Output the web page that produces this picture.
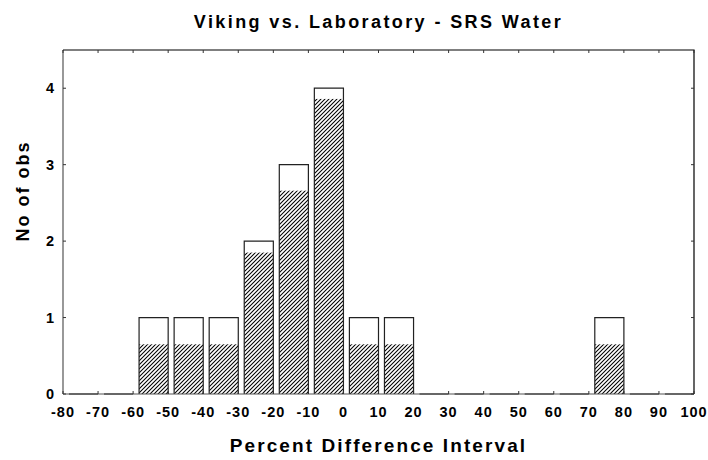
<!DOCTYPE html>
<html>
<head>
<meta charset="utf-8">
<script src="https://cdn.jsdelivr.net/npm/d3@7"></script>
<style>
    body { margin: 0; background: #fff; }
    text { font-family: "Liberation Sans", Arial, sans-serif; font-weight: bold; fill: #000; }
</style>
</head>
<body>
<div id="chart-container"></div>
<script>
// bin lower edges (percent difference), counts, and the hatched part drawn inside each bar
const binStarts = [-80, -70, -60, -50, -40, -30, -20, -10, 0, 10, 20, 30, 40, 50, 60, 70, 80, 90];
const counts = [0, 0, 1, 1, 1, 2, 3, 4, 1, 1, 0, 0, 0, 0, 0, 1, 0, 0];
const hatched = [0, 0, 0.65, 0.65, 0.65, 1.85, 2.66, 3.86, 0.65, 0.65, 0, 0, 0, 0, 0, 0.65, 0, 0];
const xTicks = [-80, -70, -60, -50, -40, -30, -20, -10, 0, 10, 20, 30, 40, 50, 60, 70, 80, 90, 100];
const yTicks = [0, 1, 2, 3, 4];

const binWidth = 10;
const width = 708;
const height = 460;
const margin = { top: 50, right: 14, bottom: 66, left: 63 };

const svg = d3
    .select("#chart-container")
    .append("svg")
    .attr("width", width)
    .attr("height", height);

// hatch pattern: "/" lines
const defs = svg.append("defs");
defs.append("pattern")
    .attr("id", "hatch")
    .attr("patternUnits", "userSpaceOnUse")
    .attr("width", 4)
    .attr("height", 4)
    .append("path")
    .attr("d", "M-1,1 l2,-2 M0,4 l4,-4 M3,5 l2,-2")
    .attr("stroke", "#000")
    .attr("stroke-width", 1.05);

const x = d3
    .scaleLinear()
    .domain([-80, 100])
    .range([margin.left, width - margin.right]);

const y = d3
    .scaleLinear()
    .domain([0, 4.5])
    .range([height - margin.bottom, margin.top]);

const bins = binStarts.map((lo, i) => ({ lo, hi: lo + binWidth, n: counts[i], h: hatched[i] }));

// bars take the right part of each bin
const barLeft = (d) => x(d.lo + 1.7);

// hatched fill first
svg.selectAll(".hatch")
    .data(bins.filter((d) => d.h > 0))
    .enter()
    .append("rect")
    .attr("class", "hatch")
    .attr("x", barLeft)
    .attr("y", (d) => y(d.h))
    .attr("width", (d) => x(d.hi) - barLeft(d))
    .attr("height", (d) => y(0) - y(d.h))
    .attr("fill", "url(#hatch)");

// bar outlines (zero bins become a flat line)
svg.selectAll(".bar")
    .data(bins)
    .enter()
    .append("path")
    .attr("class", "bar")
    .attr("d", (d) => `M${barLeft(d)},${y(0)}V${y(d.n)}H${x(d.hi)}V${y(0)}`)
    .attr("fill", "none")
    .attr("stroke", "#222")
    .attr("stroke-width", 1.2);

// frame
const x0 = x.range()[0];
const x1 = x.range()[1];
const y0 = y.range()[0];
const y1 = y.range()[1];

svg.append("path")
    .attr("d", `M${x0},${y0}V${y1}M${x0},${y0}H${x1}`)
    .attr("stroke", "#555")
    .attr("stroke-width", 1.2)
    .attr("fill", "none");
svg.append("path")
    .attr("d", `M${x0},${y1}H${x1}V${y0}`)
    .attr("stroke", "#000")
    .attr("stroke-width", 1.2)
    .attr("fill", "none");

// inward ticks on all four sides
const tickLen = 3;
svg.selectAll(".xtick")
    .data(xTicks)
    .enter()
    .append("path")
    .attr("d", (d) => `M${x(d)},${y0}v${-tickLen}M${x(d)},${y1}v${tickLen}`)
    .attr("stroke", "#333")
    .attr("stroke-width", 1);
svg.selectAll(".ytick")
    .data(yTicks)
    .enter()
    .append("path")
    .attr("d", (d) => `M${x0},${y(d)}h${tickLen}M${x1},${y(d)}h${-tickLen}`)
    .attr("stroke", "#333")
    .attr("stroke-width", 1);

// tick labels
svg.selectAll(".xlabel")
    .data(xTicks)
    .enter()
    .append("text")
    .attr("x", (d) => x(d))
    .attr("y", 417)
    .attr("text-anchor", "middle")
    .style("font-size", "14.5px")
    .style("letter-spacing", "1px")
    .text((d) => d);

svg.selectAll(".ylabel")
    .data(yTicks)
    .enter()
    .append("text")
    .attr("x", 54)
    .attr("y", (d) => y(d) + 5)
    .attr("text-anchor", "end")
    .style("font-size", "14.5px")
    .text((d) => d);

// titles
svg.append("text")
    .attr("x", (x0 + x1) / 2)
    .attr("y", 28)
    .attr("text-anchor", "middle")
    .style("font-size", "18px")
    .style("letter-spacing", "2.4px")
    .text("Viking vs. Laboratory - SRS Water");

svg.append("text")
    .attr("x", (x0 + x1) / 2)
    .attr("y", 452)
    .attr("text-anchor", "middle")
    .style("font-size", "19px")
    .style("letter-spacing", "2.1px")
    .text("Percent Difference Interval");

svg.append("text")
    .attr("transform", "translate(28.5,191) rotate(-90)")
    .attr("text-anchor", "middle")
    .style("font-size", "18px")
    .style("letter-spacing", "2px")
    .text("No of obs");
</script>
</body>
</html>
